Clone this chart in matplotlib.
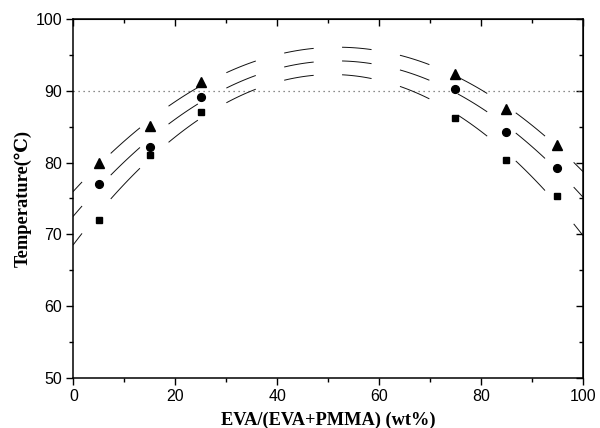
import numpy as np
import matplotlib
matplotlib.use("Agg")
import matplotlib.pyplot as plt
from matplotlib.ticker import MultipleLocator

# EVA content (wt%) and measured temperatures
eva = [5, 15, 25, 75, 85, 95]
t_tri = [80.0, 85.1, 91.2, 92.3, 87.4, 82.4]
t_cir = [77.0, 82.1, 89.1, 90.2, 84.3, 79.3]
t_sqr = [72.0, 81.1, 87.1, 86.2, 80.3, 75.4]

fig = plt.figure(figsize=(6.0, 4.28), dpi=100)
ax = fig.add_axes([0.1222, 0.1175, 0.849, 0.838])

# quadratic fits drawn as long dashes, evenly spaced along x
dash_start = np.arange(-3.95, 100, 11.36)
dash_len = 5.6
for yv in (t_tri, t_cir, t_sqr):
    cf = np.polyfit(eva, yv, 2)
    for s in dash_start:
        a, b = max(s, 0), min(s + dash_len, 100)
        if b <= a:
            continue
        xs = np.linspace(a, b, 20)
        ax.plot(xs, np.polyval(cf, xs), color='#111111', lw=0.7, zorder=2)

ax.axhline(90, color='#666666', lw=0.9, ls=(0, (1, 3)), zorder=1)

ax.plot(eva, t_tri, '^', color='k', ms=6.8, zorder=3)
ax.plot(eva, t_cir, 'o', color='k', ms=5.6, zorder=3)
ax.plot(eva, t_sqr, 's', color='k', ms=4.9, zorder=3)

ax.set_xlim(0, 100)
ax.set_ylim(50, 100)
ax.xaxis.set_major_locator(MultipleLocator(20))
ax.xaxis.set_minor_locator(MultipleLocator(10))
ax.yaxis.set_major_locator(MultipleLocator(10))
ax.yaxis.set_minor_locator(MultipleLocator(5))
ax.tick_params(which='major', direction='out', length=5, width=1, labelsize=11.5, pad=3)
ax.tick_params(which='minor', direction='out', length=3, width=1)
for lab in ax.get_xticklabels() + ax.get_yticklabels():
    lab.set_fontfamily('Liberation Sans')
for sp_ in ax.spines.values():
    sp_.set_linewidth(1.1)

# mirrored ticks on top and right pointing inward
top = ax.secondary_xaxis('top')
top.xaxis.set_major_locator(MultipleLocator(20))
top.xaxis.set_minor_locator(MultipleLocator(10))
top.tick_params(which='major', direction='in', length=5, width=1, labeltop=False)
top.tick_params(which='minor', direction='in', length=3, width=1)
right = ax.secondary_yaxis('right')
right.yaxis.set_major_locator(MultipleLocator(10))
right.yaxis.set_minor_locator(MultipleLocator(5))
right.tick_params(which='major', direction='in', length=5, width=1, labelright=False)
right.tick_params(which='minor', direction='in', length=3, width=1)

lab_font = dict(family=['Liberation Serif', 'DejaVu Serif', 'DejaVu Sans'], weight='bold', size=13.2)
ax.set_xlabel('EVA/(EVA+PMMA) (wt%)', labelpad=6, **lab_font)
ax.set_ylabel('Temperature(℃)', labelpad=3, **lab_font)

fig.savefig('out.png', dpi=100)
